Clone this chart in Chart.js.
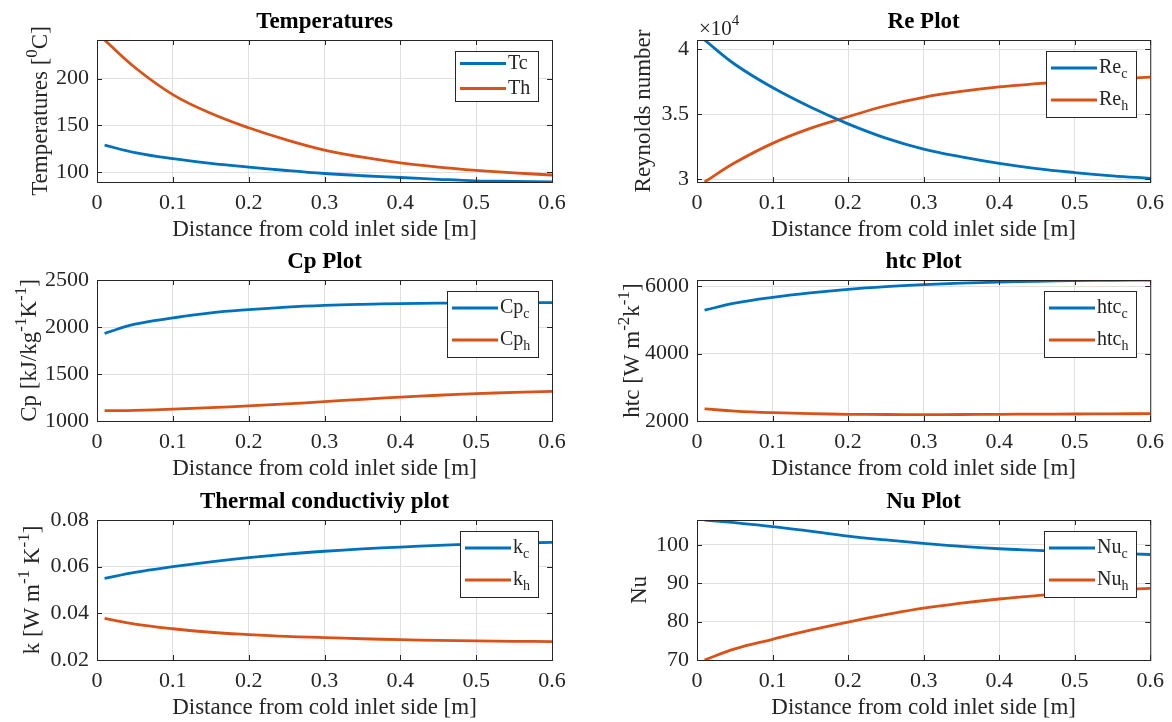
<!DOCTYPE html>
<html>
<head>
<meta charset="utf-8">
<script src="https://cdn.jsdelivr.net/npm/chart.js@4.4.1/dist/chart.umd.min.js"></script>
<style>
html, body { margin: 0; background: #fff; }
#fig { position: relative; width: 1172px; height: 722px; overflow: hidden; }
#fig canvas { position: absolute; }
</style>
</head>
<body>
<div id="fig"></div>
<script>
// distance from the cold inlet [m]
const dist = [0.01, 0.05, 0.10, 0.15, 0.20, 0.25, 0.30, 0.35, 0.40, 0.45, 0.50, 0.55, 0.60];

// cold / hot stream profiles along the exchanger
const tempCold = [128.9, 121.0, 114.5, 109.5, 105.5, 101.8, 98.6, 96.2, 94.3, 92.4, 90.8, 90.1, 89.5];
const tempHot  = [241.4, 212.0, 183.0, 163.0, 147.5, 134.5, 123.6, 116.0, 110.0, 105.5, 102.0, 99.2, 97.0];
const reCold   = [40720, 38850, 37050, 35550, 34250, 33150, 32300, 31700, 31200, 30800, 30500, 30250, 30050];
const reHot    = [29770, 31250, 32750, 33900, 34800, 35650, 36300, 36750, 37100, 37350, 37560, 37720, 37850];
const cpCold   = [1933, 2030, 2096, 2150, 2185, 2212, 2230, 2241, 2248, 2253, 2256, 2258, 2259];
const cpHot    = [1110, 1114, 1126, 1142, 1160, 1182, 1206, 1231, 1255, 1274, 1291, 1304, 1316];
const htcCold  = [5285, 5490, 5663, 5795, 5900, 5980, 6040, 6085, 6119, 6142, 6159, 6170, 6179];
const htcHot   = [2357, 2295, 2248, 2218, 2199, 2192, 2189, 2192, 2199, 2204, 2208, 2213, 2218];
const kCold    = [0.0550, 0.0576, 0.0600, 0.0621, 0.0639, 0.0654, 0.0666, 0.0676, 0.0684, 0.0691, 0.0697, 0.0701, 0.0704];
const kHot     = [0.0378, 0.0354, 0.0334, 0.0319, 0.0309, 0.0301, 0.0296, 0.0291, 0.0287, 0.0284, 0.0282, 0.0280, 0.0279];
const nuCold   = [106.5, 105.8, 104.8, 103.6, 102.3, 101.3, 100.4, 99.6, 99.0, 98.6, 98.2, 97.8, 97.5];
const nuHot    = [70.0, 72.9, 75.4, 77.8, 79.9, 81.8, 83.5, 84.8, 85.9, 86.8, 87.6, 88.2, 88.7];

// tick values and their labels
const xTicks = [0, 0.1, 0.2, 0.3, 0.4, 0.5, 0.6];
const xTickLabels = ['0', '0.1', '0.2', '0.3', '0.4', '0.5', '0.6'];
const tempTicks = [100, 150, 200];
const tempTickLabels = ['100', '150', '200'];
const reTicks = [30000, 35000, 40000];
const reTickLabels = ['3', '3.5', '4'];
const cpTicks = [1000, 1500, 2000, 2500];
const cpTickLabels = ['1000', '1500', '2000', '2500'];
const htcTicks = [2000, 4000, 6000];
const htcTickLabels = ['2000', '4000', '6000'];
const kTicks = [0.02, 0.04, 0.06, 0.08];
const kTickLabels = ['0.02', '0.04', '0.06', '0.08'];
const nuTicks = [70, 80, 90, 100];
const nuTickLabels = ['70', '80', '90', '100'];

const FONT = '"Liberation Serif", "Times New Roman", serif';
const AXIS = '#262626';
const GRID = '#e0e0e0';
const COLORS = ['#0072BD', '#D95319'];
const XLABEL = 'Distance from cold inlet side [m]';
const TICK_SIZE = 22, LABEL_SIZE = 23, TITLE_SIZE = 23, LEGEND_SIZE = 20;

// ^{..} superscript, _{..} subscript
function richParts(s) {
  const out = [];
  const re = /([\^_])\{([^}]*)\}/g;
  let last = 0, m;
  while ((m = re.exec(s))) {
    if (m.index > last) out.push({ t: s.slice(last, m.index), m: 'n' });
    out.push({ t: m[2], m: m[1] === '^' ? 'sup' : 'sub' });
    last = re.lastIndex;
  }
  if (last < s.length) out.push({ t: s.slice(last), m: 'n' });
  return out;
}

const partFont = (p, size, bold) =>
  (bold ? 'bold ' : '') + (p.m === 'n' ? size : Math.round(size * 0.72)) + 'px ' + FONT;

function richWidth(ctx, s, size, bold) {
  let w = 0;
  for (const p of richParts(s)) {
    ctx.font = partFont(p, size, bold);
    w += ctx.measureText(p.t).width;
  }
  return w;
}

function drawRich(ctx, s, x, y, size, opt = {}) {
  const w = richWidth(ctx, s, size, opt.bold);
  let cx = opt.align === 'left' ? x : x - w / 2;
  ctx.textAlign = 'left';
  ctx.textBaseline = 'middle';
  ctx.fillStyle = opt.color || AXIS;
  for (const p of richParts(s)) {
    ctx.font = partFont(p, size, opt.bold);
    const dy = p.m === 'sup' ? -size * 0.36 : p.m === 'sub' ? size * 0.32 : 0;
    ctx.fillText(p.t, cx, y + dy);
    cx += ctx.measureText(p.t).width;
  }
}

// box, inward ticks, titles and the legend drawn the MATLAB way
const matlabAxes = {
  id: 'matlabAxes',
  afterDraw(chart, args, o) {
    const { ctx, chartArea: a } = chart;
    const xs = chart.scales.x, ys = chart.scales.y;
    ctx.save();

    ctx.strokeStyle = AXIS;
    ctx.lineWidth = 1;
    ctx.beginPath();
    for (const t of xs.ticks) {
      const px = Math.round(xs.getPixelForValue(t.value)) + 0.5;
      ctx.moveTo(px, a.bottom); ctx.lineTo(px, a.bottom - 5);
      ctx.moveTo(px, a.top); ctx.lineTo(px, a.top + 5);
    }
    for (const t of ys.ticks) {
      const py = Math.round(ys.getPixelForValue(t.value)) + 0.5;
      ctx.moveTo(a.left, py); ctx.lineTo(a.left + 5, py);
      ctx.moveTo(a.right, py); ctx.lineTo(a.right - 5, py);
    }
    ctx.stroke();
    ctx.strokeRect(a.left + 0.5, a.top + 0.5, a.right - a.left, a.bottom - a.top);

    const cx = (a.left + a.right) / 2;
    drawRich(ctx, o.title, cx, a.top - 18, TITLE_SIZE, { bold: true, color: '#000' });
    drawRich(ctx, XLABEL, cx, a.bottom + 48, LABEL_SIZE);

    ctx.save();
    ctx.translate(o.yTitleX, (a.top + a.bottom) / 2);
    ctx.rotate(-Math.PI / 2);
    drawRich(ctx, o.yTitle, 0, 0, LABEL_SIZE);
    ctx.restore();

    if (o.exponent) drawRich(ctx, o.exponent, a.left + 2, a.top - 11, 21, { align: 'left' });

    // legend, top right corner
    const ds = chart.data.datasets;
    const hasSub = ds.some((d) => d.label.includes('_{'));
    const rowH = hasSub ? 32 : 25;
    const padY = hasSub ? 17 : 12.5;
    const tw = Math.max(...ds.map((d) => richWidth(ctx, d.label, LEGEND_SIZE)));
    const w = Math.round(5 + 46 + 2 + tw + 8);
    const h = padY * 2 + rowH * (ds.length - 1);
    const lx = Math.round(a.right - 14 - w), ly = a.top + 11;
    ctx.fillStyle = '#fff';
    ctx.fillRect(lx, ly, w, h);
    ctx.strokeStyle = AXIS;
    ctx.lineWidth = 1;
    ctx.strokeRect(lx + 0.5, ly + 0.5, w, h);
    ds.forEach((d, i) => {
      const ry = ly + padY + i * rowH;
      ctx.strokeStyle = d.borderColor;
      ctx.lineWidth = d.borderWidth;
      ctx.beginPath();
      ctx.moveTo(lx + 5, ry); ctx.lineTo(lx + 51, ry);
      ctx.stroke();
      drawRich(ctx, d.label, lx + 53, ry, LEGEND_SIZE, { align: 'left' });
    });

    ctx.restore();
  }
};

const panels = [
  { cell: [0, 0, 586, 240], plot: [97, 40, 552, 182], title: 'Temperatures', yTitle: 'Temperatures [^{0}C]', yTitleX: 41,
    yMin: 89.5, yMax: 241.4, yTicks: tempTicks, yTickLabels: tempTickLabels,
    series: [['Tc', tempCold], ['Th', tempHot]] },
  { cell: [586, 0, 586, 240], plot: [697, 40, 1152, 182], title: 'Re Plot', yTitle: 'Reynolds number', yTitleX: 644,
    yMin: 29770, yMax: 40720, yTicks: reTicks, yTickLabels: reTickLabels, exponent: '\u00d710^{4}',
    series: [['Re_{c}', reCold], ['Re_{h}', reHot]] },
  { cell: [0, 240, 586, 241], plot: [97, 280, 552, 421], title: 'Cp Plot', yTitle: 'Cp [kJ/kg^{-1}K^{-1}]', yTitleX: 30,
    yMin: 1000, yMax: 2500, yTicks: cpTicks, yTickLabels: cpTickLabels,
    series: [['Cp_{c}', cpCold], ['Cp_{h}', cpHot]] },
  { cell: [586, 240, 586, 241], plot: [697, 280, 1152, 421], title: 'htc Plot', yTitle: 'htc [W m^{-2}k^{-1}]', yTitleX: 633,
    yMin: 2000, yMax: 6179, yTicks: htcTicks, yTickLabels: htcTickLabels,
    series: [['htc_{c}', htcCold], ['htc_{h}', htcHot]] },
  { cell: [0, 481, 586, 241], plot: [97, 520, 552, 660], title: 'Thermal conductiviy plot', yTitle: 'k [W m^{-1} K^{-1}]', yTitleX: 33,
    yMin: 0.02, yMax: 0.08, yTicks: kTicks, yTickLabels: kTickLabels,
    series: [['k_{c}', kCold], ['k_{h}', kHot]] },
  { cell: [586, 481, 586, 241], plot: [697, 520, 1152, 660], title: 'Nu Plot', yTitle: 'Nu', yTitleX: 640,
    yMin: 70, yMax: 106.5, yTicks: nuTicks, yTickLabels: nuTickLabels,
    series: [['Nu_{c}', nuCold], ['Nu_{h}', nuHot]] }
];

const fig = document.getElementById('fig');
const tickFont = { family: FONT, size: TICK_SIZE };

for (const p of panels) {
  const [cx, cy, cw, ch] = p.cell;
  const [pl, pt, pr, pb] = p.plot;
  const cv = document.createElement('canvas');
  cv.width = cw; cv.height = ch;
  cv.style.left = cx + 'px'; cv.style.top = cy + 'px';
  cv.style.width = cw + 'px'; cv.style.height = ch + 'px';
  fig.appendChild(cv);

  new Chart(cv, {
    type: 'line',
    data: {
      datasets: p.series.map(([label, vals], i) => ({
        label,
        data: dist.map((x, j) => ({ x, y: vals[j] })),
        borderColor: COLORS[i],
        borderWidth: 2.8,
        pointRadius: 0,
        tension: 0.4,
        fill: false
      }))
    },
    options: {
      responsive: false,
      animation: false,
      devicePixelRatio: 1,
      layout: { padding: { top: pt - cy, right: cx + cw - pr, left: 0, bottom: 0 } },
      plugins: {
        legend: { display: false },
        tooltip: { enabled: false },
        matlabAxes: { title: p.title, yTitle: p.yTitle, yTitleX: p.yTitleX - cx, exponent: p.exponent }
      },
      scales: {
        x: {
          type: 'linear', min: 0, max: 0.6,
          afterBuildTicks: (s) => { s.ticks = xTicks.map((v) => ({ value: v })); },
          afterFit: (s) => { s.height = cy + ch - pb; },
          ticks: { callback: (v, i) => xTickLabels[i], font: tickFont, color: AXIS, padding: 8, maxRotation: 0, autoSkip: false },
          grid: { color: GRID, drawTicks: false },
          border: { display: false }
        },
        y: {
          type: 'linear', min: p.yMin, max: p.yMax,
          afterBuildTicks: (s) => { s.ticks = p.yTicks.map((v) => ({ value: v })); },
          afterFit: (s) => { s.width = pl - cx; },
          ticks: { callback: (v, i) => p.yTickLabels[i], font: tickFont, color: AXIS, padding: 8, autoSkip: false },
          grid: { color: GRID, drawTicks: false },
          border: { display: false }
        }
      }
    },
    plugins: [matlabAxes]
  });
}
</script>
</body>
</html>
